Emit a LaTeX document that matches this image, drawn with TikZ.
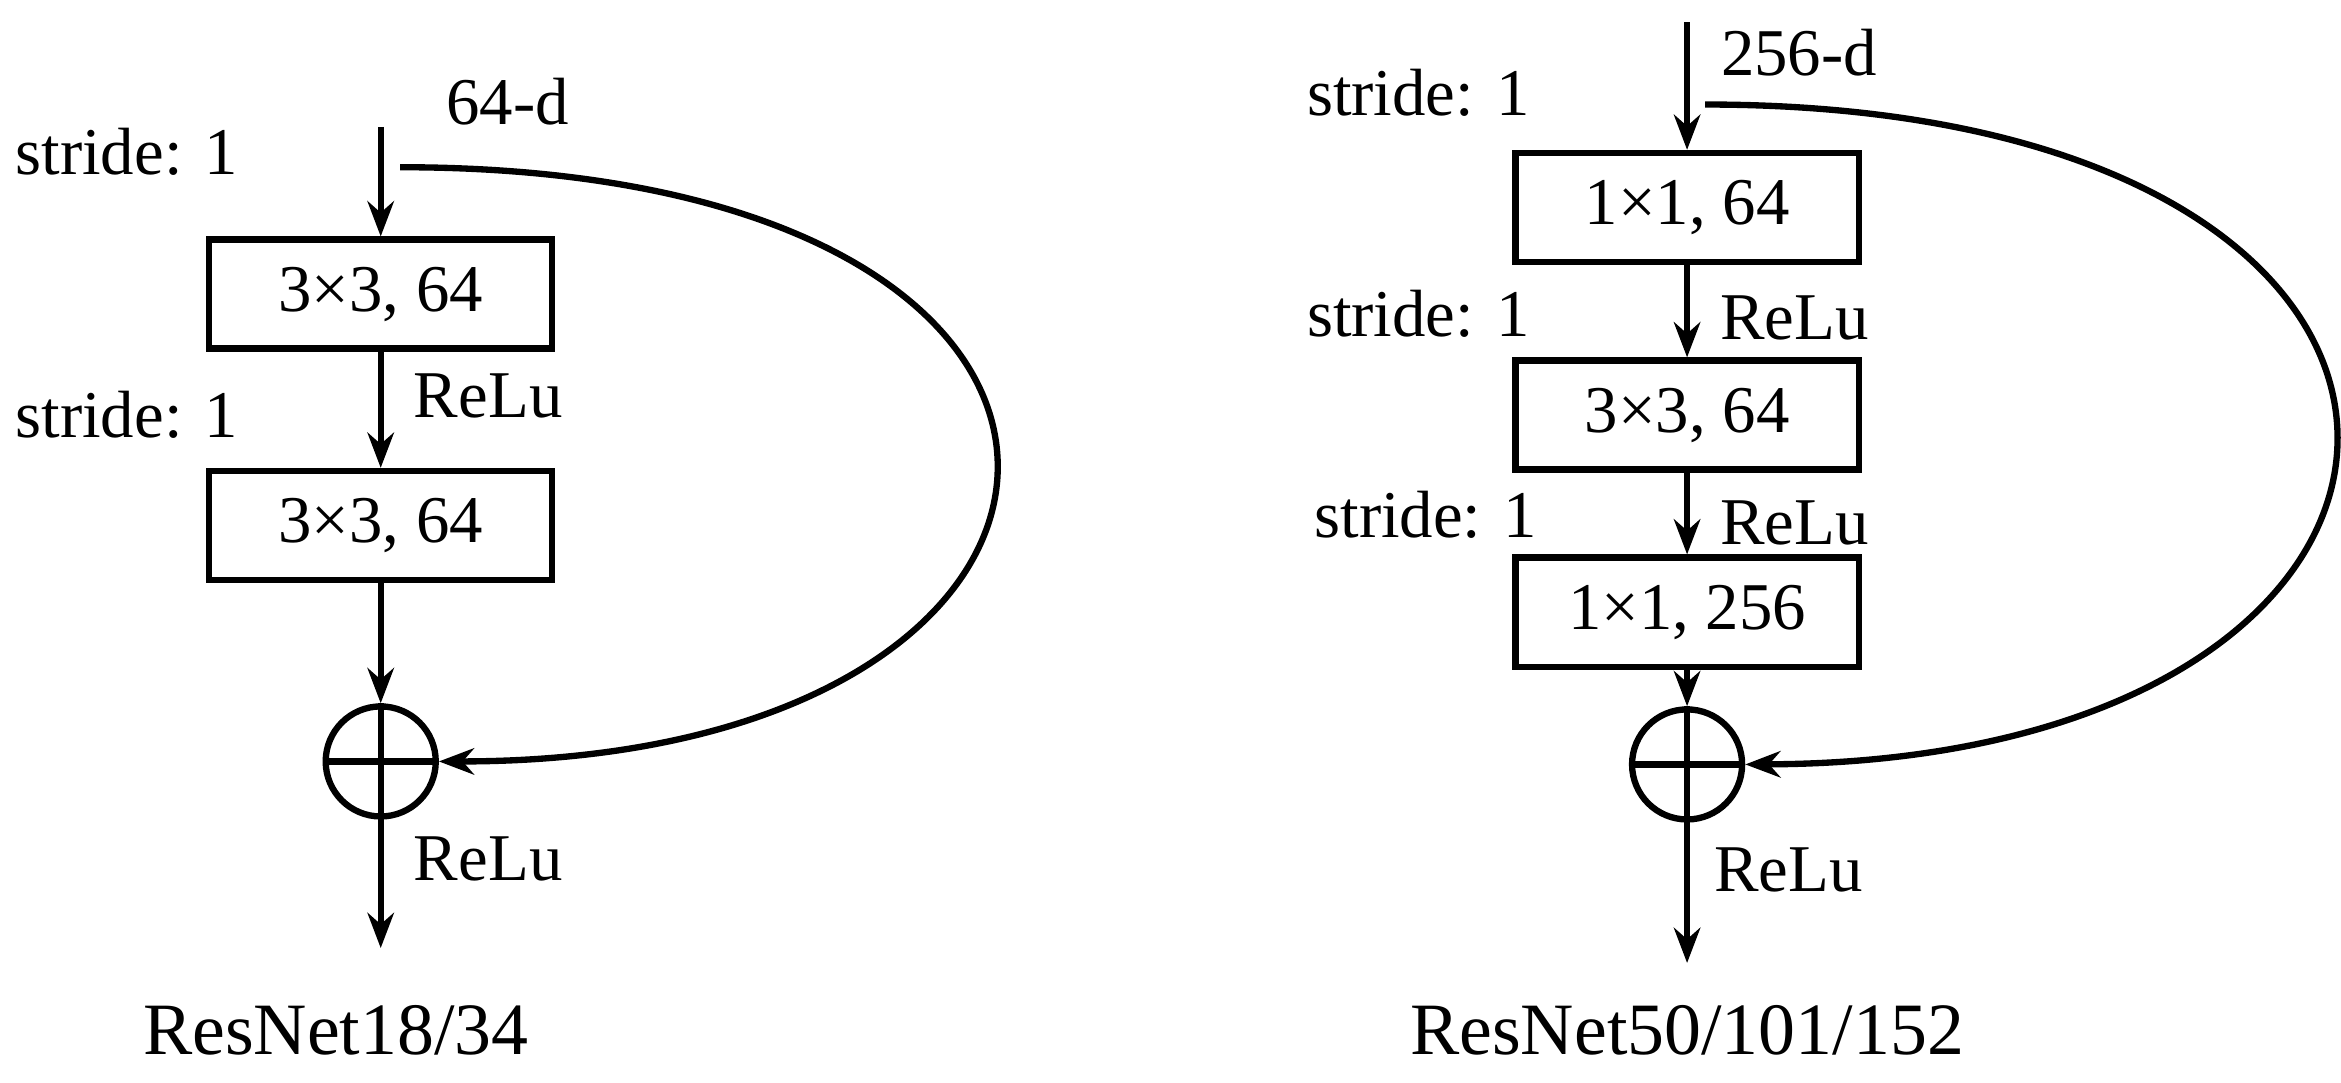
\documentclass[tikz,border=0pt]{standalone}
\usepackage{fontspec}
\setmainfont{Liberation Serif}
\usetikzlibrary{arrows.meta}
\begin{document}
\begin{tikzpicture}[x=0.01493cm,y=-0.01493cm,
  blk/.style={draw,line width=1.8pt,minimum width=3.43cm,minimum height=1.09cm,inner sep=0pt,font=\fontsize{19}{21}\selectfont},
  lbl/.style={inner sep=0pt,font=\fontsize{19}{21}\selectfont},
  sum/.style={draw,circle,line width=1.8pt,minimum size=1.1cm,inner sep=0pt},
  arr/.style={-{Stealth[length=10pt,width=7.5pt]},line width=1.8pt}]
\useasboundingbox (0,0) rectangle (1568,725);
% left
\coordinate (lt) at (255,85);
\node[blk] (l1) at (255,197) {3×3, 64};
\node[blk] (l2) at (255,352) {3×3, 64};
\node[sum] (ls) at (255,510) {};
\draw[line width=1.8pt] (ls.north)--(ls.south) (ls.west)--(ls.east);
\coordinate (lo) at (255,635);
\draw[arr] (lt)--(l1);
\draw[arr] (l1)--(l2);
\draw[arr] (l2)--(ls);
\draw[arr] (ls)--(lo);
\coordinate (lc) at (268,112);
\draw[arr] (lc) .. controls (810,112) and (780,510) .. (ls.east);
\node[lbl] (t1) at (340,68) {64-d};
\node[lbl] (t2) at (85,102) {stride: 1};
\node[lbl] (t3) at (85,278) {stride: 1};
\node[lbl] (t4) at (327,265) {ReLu};
\node[lbl] (t5) at (327,575) {ReLu};
\node[lbl,font=\fontsize{21}{23}\selectfont] (t6) at (225,690) {ResNet18/34};
% right
\coordinate (rt) at (1130,15);
\node[blk] (r1) at (1130,139) {1×1, 64};
\node[blk] (r2) at (1130,278) {3×3, 64};
\node[blk] (r3) at (1130,410) {1×1, 256};
\node[sum] (rs) at (1130,512) {};
\draw[line width=1.8pt] (rs.north)--(rs.south) (rs.west)--(rs.east);
\coordinate (ro) at (1130,645);
\draw[arr] (rt)--(r1);
\draw[arr] (r1)--(r2);
\draw[arr] (r2)--(r3);
\draw[arr] (r3)--(rs);
\draw[arr] (rs)--(ro);
\coordinate (rc) at (1142,70);
\draw[arr] (rc) .. controls (1710,70) and (1690,510) .. (rs.east);
\node[lbl] (u1) at (1205,35) {256-d};
\node[lbl] (u2) at (950,62) {stride: 1};
\node[lbl] (u3) at (950,210) {stride: 1};
\node[lbl] (u4) at (955,345) {stride: 1};
\node[lbl] (u5) at (1202,213) {ReLu};
\node[lbl] (u6) at (1202,350) {ReLu};
\node[lbl] (u7) at (1198,583) {ReLu};
\node[lbl,font=\fontsize{21}{23}\selectfont] (u8) at (1130,690) {ResNet50/101/152};
\end{tikzpicture}
\end{document}
